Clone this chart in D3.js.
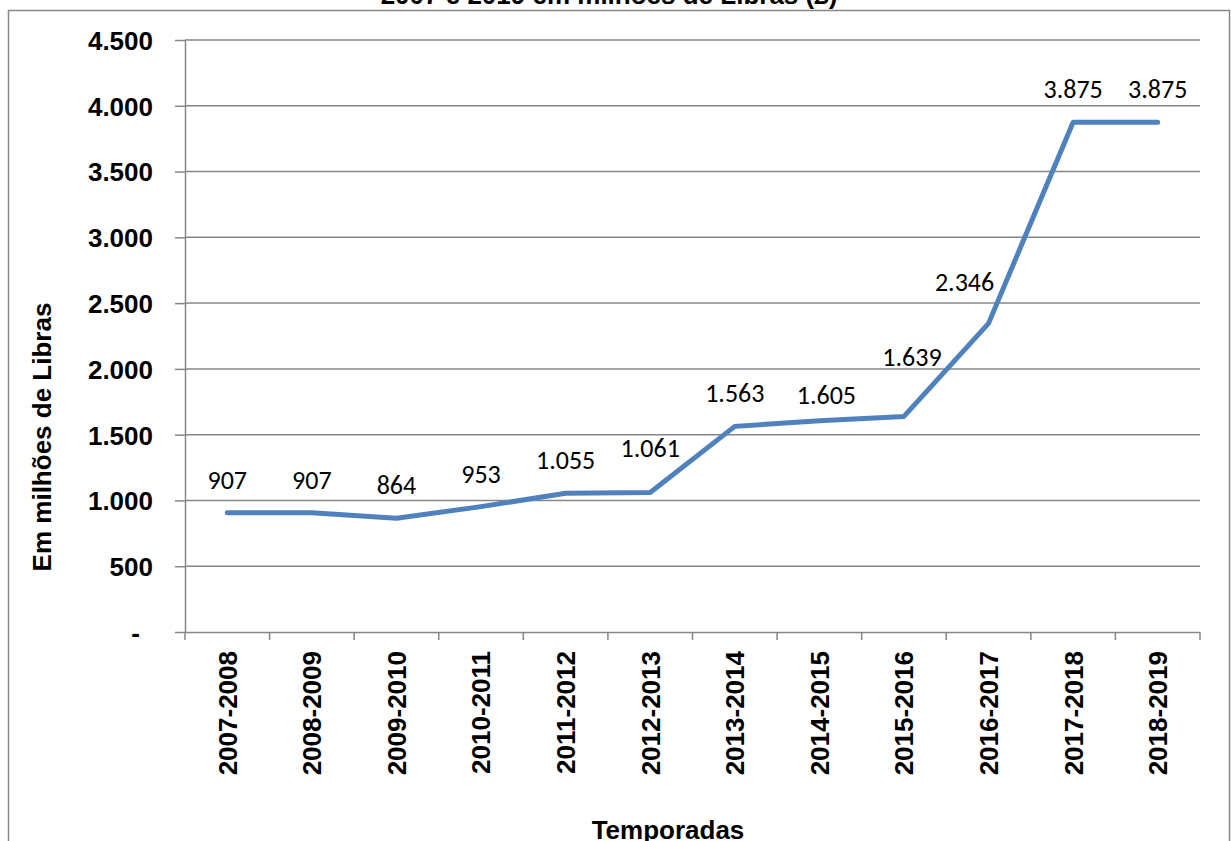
<!DOCTYPE html>
<html>
<head>
<meta charset="utf-8">
<script src="https://cdn.jsdelivr.net/npm/d3@7"></script>
<style>
  body { margin: 0; background: #fff; }
  svg { display: block; }
  .axis text { font-family: "Liberation Sans", Arial, sans-serif; font-weight: bold; font-size: 26px; fill: #000; }
  .axis path, .axis line { stroke: #868686; stroke-width: 1.5; }
</style>
</head>
<body>
<div id="chart"></div>
<script>
// Season labels (x categories)
const seasons = ["2007-2008", "2008-2009", "2009-2010", "2010-2011", "2011-2012", "2012-2013",
  "2013-2014", "2014-2015", "2015-2016", "2016-2017", "2017-2018", "2018-2019"];

// Values in millions of pounds
const values = [907, 907, 864, 953, 1055, 1061, 1563, 1605, 1639, 2346, 3875, 3875];

// Y axis ticks
const yTicks = [0, 500, 1000, 1500, 2000, 2500, 3000, 3500, 4000, 4500];

const titleText = "2007 e 2019 em milhões de Libras (£)";
const xTitle = "Temporadas";
const yTitle = "Em milhões de Libras";

const width = 1231, height = 841;
const margin = { top: 40, right: 31, bottom: 209, left: 185 };

const svg = d3.select("#chart").append("svg")
  .attr("width", width)
  .attr("height", height);

// Outer chart frame
svg.append("rect")
  .attr("x", 8.5)
  .attr("y", 10.5)
  .attr("width", 1221)
  .attr("height", 860)
  .attr("fill", "none")
  .attr("stroke", "#868686")
  .attr("stroke-width", 1.5);

// Title (only last line visible in the crop)
svg.append("text")
  .attr("x", 609)
  .attr("y", 4)
  .attr("text-anchor", "middle")
  .style("font-family", "'Liberation Sans', Arial, sans-serif")
  .style("font-weight", "bold")
  .style("font-size", "26px")
  .text(titleText);

const x = d3.scaleBand()
  .domain(seasons)
  .range([margin.left, width - margin.right]);

const y = d3.scaleLinear()
  .domain([0, 4500])
  .range([height - margin.bottom, margin.top]);

const numFmt = d3.formatLocale({ decimal: ",", thousands: ".", grouping: [3], currency: ["£", ""] }).format(",");

// Gridlines
svg.append("g")
  .selectAll("line")
  .data(yTicks.filter(d => d > 0))
  .join("line")
  .attr("x1", margin.left)
  .attr("x2", width - margin.right)
  .attr("y1", d => y(d))
  .attr("y2", d => y(d))
  .attr("stroke", "#868686")
  .attr("stroke-width", 1.5);

// Y axis
const yAxis = svg.append("g")
  .attr("class", "axis")
  .attr("transform", `translate(${margin.left},0)`)
  .call(d3.axisLeft(y).tickValues(yTicks).tickSize(10).tickSizeOuter(0).tickPadding(22)
    .tickFormat(d => d === 0 ? "-\u2002" : numFmt(d)));
yAxis.selectAll(".tick text").attr("dy", "0.36em");

// X axis line and labels
const xAxis = svg.append("g")
  .attr("class", "axis")
  .attr("transform", `translate(0,${y(0)})`)
  .call(d3.axisBottom(x).tickSize(0).tickSizeOuter(0));
xAxis.selectAll(".tick text")
  .attr("transform", "rotate(-90)")
  .attr("text-anchor", "end")
  .attr("x", -19)
  .attr("y", 0)
  .attr("dy", "0.36em");

// X tick marks at category boundaries
svg.append("g")
  .selectAll("line")
  .data(seasons.map(d => x(d)).concat([x.range()[1]]))
  .join("line")
  .attr("x1", d => d)
  .attr("x2", d => d)
  .attr("y1", y(0))
  .attr("y2", y(0) + 8)
  .attr("stroke", "#868686")
  .attr("stroke-width", 1.5);

// Axis titles
svg.append("text")
  .attr("x", 668)
  .attr("y", 839)
  .attr("text-anchor", "middle")
  .style("font-family", "'Liberation Sans', Arial, sans-serif")
  .style("font-weight", "bold")
  .style("font-size", "26px")
  .text(xTitle);

svg.append("text")
  .attr("transform", `translate(42,${(margin.top + y(0)) / 2 + 101}) rotate(-90)`)
  .attr("text-anchor", "middle")
  .attr("dy", "0.36em")
  .style("font-family", "'Liberation Sans', Arial, sans-serif")
  .style("font-weight", "bold")
  .style("font-size", "26px")
  .text(yTitle);

// Line
const points = seasons.map((s, i) => ({ season: s, value: values[i] }));
const line = d3.line()
  .x(d => x(d.season) + x.bandwidth() / 2)
  .y(d => y(d.value));

svg.append("path")
  .datum(points)
  .attr("fill", "none")
  .attr("stroke", "#4F81BD")
  .attr("stroke-width", 5)
  .attr("stroke-linecap", "round")
  .attr("stroke-linejoin", "round")
  .attr("d", line);

// Data labels, above the points; a few were moved by hand in the original
const nudge = { "2012-2013": [0, -12], "2014-2015": [7, 7], "2015-2016": [8, -26], "2016-2017": [-24, -8] };
svg.append("g")
  .selectAll("text")
  .data(points)
  .join("text")
  .attr("x", d => x(d.season) + x.bandwidth() / 2 + (nudge[d.season] ? nudge[d.season][0] : 0))
  .attr("y", d => y(d.value) - 33 + (nudge[d.season] ? nudge[d.season][1] : 0))
  .attr("dy", "0.35em")
  .attr("text-anchor", "middle")
  .style("font-family", "Carlito, Calibri, Lato, sans-serif")
  .style("font-size", "26px")
  .text(d => numFmt(d.value));
</script>
</body>
</html>
